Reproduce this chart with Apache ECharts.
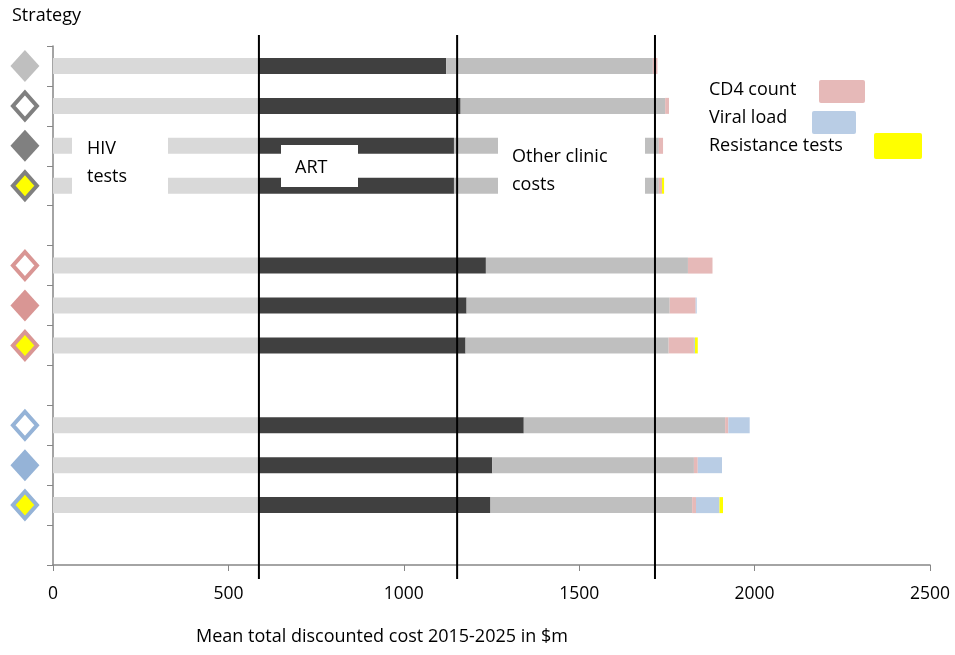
<!DOCTYPE html>
<html>
<head>
<meta charset="utf-8">
<script src="https://cdn.jsdelivr.net/npm/echarts@6/dist/echarts.min.js"></script>
<style>
html,body{margin:0;padding:0;background:#fff;}
#chart{width:955px;height:655px;}
</style>
</head>
<body>
<div id="chart"></div>
<script>
// ---- data ----
const categories = ['S1','S2','S3','S4','','S5','S6','S7',' ','S8','S9','S10','  '];
const hivTests   = [587, 587, 587, 587, '-', 587, 587, 587, '-', 587, 587, 587, '-'];
const art        = [534, 575, 556, 556, '-', 647, 592, 589, '-', 755, 665, 660, '-'];
const otherClinic= [589, 583, 584, 584, '-', 576, 579, 579, '-', 574, 575, 575, '-'];
const cd4Count   = [13, 11, 12, 9, '-', 70, 74, 72, '-', 9, 11, 11, '-'];
const viralLoad  = [0, 0, 0, 0, '-', 0, 3, 3, '-', 61, 69, 67, '-'];
const resistance = [0, 0, 0, 6, '-', 0, 0, 8, '-', 0, 0, 10, '-'];
const refLines   = [587, 1152, 1716];
const xTicks     = [0, 500, 1000, 1500, 2000, 2500];
// marker family and variant per strategy row
const markerGroup   = ['grey','grey','grey','grey',null,'pink','pink','pink',null,'blue','blue','blue',null];
const markerVariant = ['light','open','filled','yellow',null,'open','filled','yellow',null,'open','filled','yellow',null];
const markerX = -80;

// ---- styles ----
const FONT = '"Open Sans", "Noto Sans", sans-serif';
const groupColor = {grey:'#808080', pink:'#d99694', blue:'#95b3d7'};
const AXIS = '#868686';

const markerData = [];
categories.forEach((c, i) => {
  const g = markerGroup[i];
  if (!g) return;
  const v = markerVariant[i];
  const col = groupColor[g];
  let item = {value:[markerX, c]};
  if (v === 'light') {
    item.itemStyle = {color:'#bfbfbf', borderWidth:0, opacity:1};
    item.symbolSize = [29, 32];
  } else if (v === 'filled') {
    item.itemStyle = {color: col, borderWidth:0, opacity:1};
    item.symbolSize = [29, 32];
  } else if (v === 'open') {
    item.itemStyle = {color:'#ffffff', borderColor: col, borderWidth:4, opacity:1};
    item.symbolSize = [24, 27];
  } else {
    item.itemStyle = {color:'#ffff00', borderColor: col, borderWidth:4, opacity:1};
    item.symbolSize = [24, 27];
  }
  markerData.push(item);
});

function barSeries(name, data, color) {
  return {
    type:'bar', name, data, stack:'cost', barWidth:16,
    itemStyle:{color}, emphasis:{disabled:true}, z:2
  };
}

const chart = echarts.init(document.getElementById('chart'));
chart.setOption({
  animation:false,
  grid:{left:53, right:25, top:46, bottom:90, containLabel:false},
  xAxis:{
    type:'value', min:xTicks[0], max:xTicks[xTicks.length-1], interval:500,
    axisLine:{show:true, lineStyle:{color:AXIS, width:1.5}},
    axisTick:{show:true, length:6, lineStyle:{color:AXIS}},
    splitLine:{show:false},
    axisLabel:{color:'#000', fontSize:17.5, fontFamily:FONT, margin:20,
               formatter:function(v){ return String(v); }}
  },
  yAxis:{
    type:'category', data:categories, inverse:true,
    axisLine:{show:true, lineStyle:{color:AXIS, width:1.5}},
    axisTick:{show:true, length:6, lineStyle:{color:AXIS}},
    axisLabel:{show:false}
  },
  series:[
    barSeries('HIV tests', hivTests, '#d9d9d9'),
    barSeries('ART', art, '#404040'),
    barSeries('Other clinic costs', otherClinic, '#bfbfbf'),
    barSeries('CD4 count', cd4Count, '#e6b9b8'),
    barSeries('Viral load', viralLoad, '#b9cde5'),
    barSeries('Resistance tests', resistance, '#ffff00'),
    {
      type:'custom', name:'ref', data:refLines.map(v => [v]), encode:{x:0},
      clip:false, z:5, silent:true,
      renderItem:function(params, api){
        const x = api.coord([api.value(0), 0])[0];
        const cs = params.coordSys;
        return {type:'line', shape:{x1:x, y1:cs.y - 11, x2:x, y2:cs.y + cs.height + 14},
                style:{stroke:'#000', lineWidth:2}};
      }
    },
    {
      type:'scatter', name:'markers', symbol:'diamond', data:markerData,
      clip:false, z:6, silent:true
    }
  ],
  graphic:[
    {type:'text', left:12, top:7, z:100, style:{text:'Strategy', font:'18px '+FONT, fill:'#000'}},
    {type:'text', left:196, top:628, z:100, style:{text:'Mean total discounted cost 2015-2025 in $m', font:'18px '+FONT, fill:'#000'}},
    // annotation boxes
    {type:'rect', shape:{x:72, y:130, width:96, height:72}, style:{fill:'#fff'}, z:100},
    {type:'text', x:87, y:135, z:101, style:{text:'HIV\ntests', font:'18px '+FONT, fill:'#000', lineHeight:28}},
    {type:'rect', shape:{x:281, y:145, width:77, height:42}, style:{fill:'#fff'}, z:100},
    {type:'text', x:295, y:159, z:101, style:{text:'ART', font:'18px '+FONT, fill:'#000'}},
    {type:'rect', shape:{x:498, y:130, width:147, height:72}, style:{fill:'#fff'}, z:100},
    {type:'text', x:512, y:143, z:101, style:{text:'Other clinic\ncosts', font:'18px '+FONT, fill:'#000', lineHeight:28}},
    // legend
    {type:'text', x:709, y:81, z:101, style:{text:'CD4 count', font:'18px '+FONT, fill:'#000'}},
    {type:'rect', shape:{x:819, y:80, width:46, height:23, r:2}, style:{fill:'#e6b9b8'}, z:100},
    {type:'text', x:709, y:109, z:101, style:{text:'Viral load', font:'18px '+FONT, fill:'#000'}},
    {type:'rect', shape:{x:812, y:111, width:44, height:23, r:2}, style:{fill:'#b9cde5'}, z:100},
    {type:'text', x:709, y:137, z:101, style:{text:'Resistance tests', font:'18px '+FONT, fill:'#000'}},
    {type:'rect', shape:{x:874, y:133, width:48, height:26, r:2}, style:{fill:'#ffff00'}, z:100}
  ]
});
</script>
</body>
</html>
